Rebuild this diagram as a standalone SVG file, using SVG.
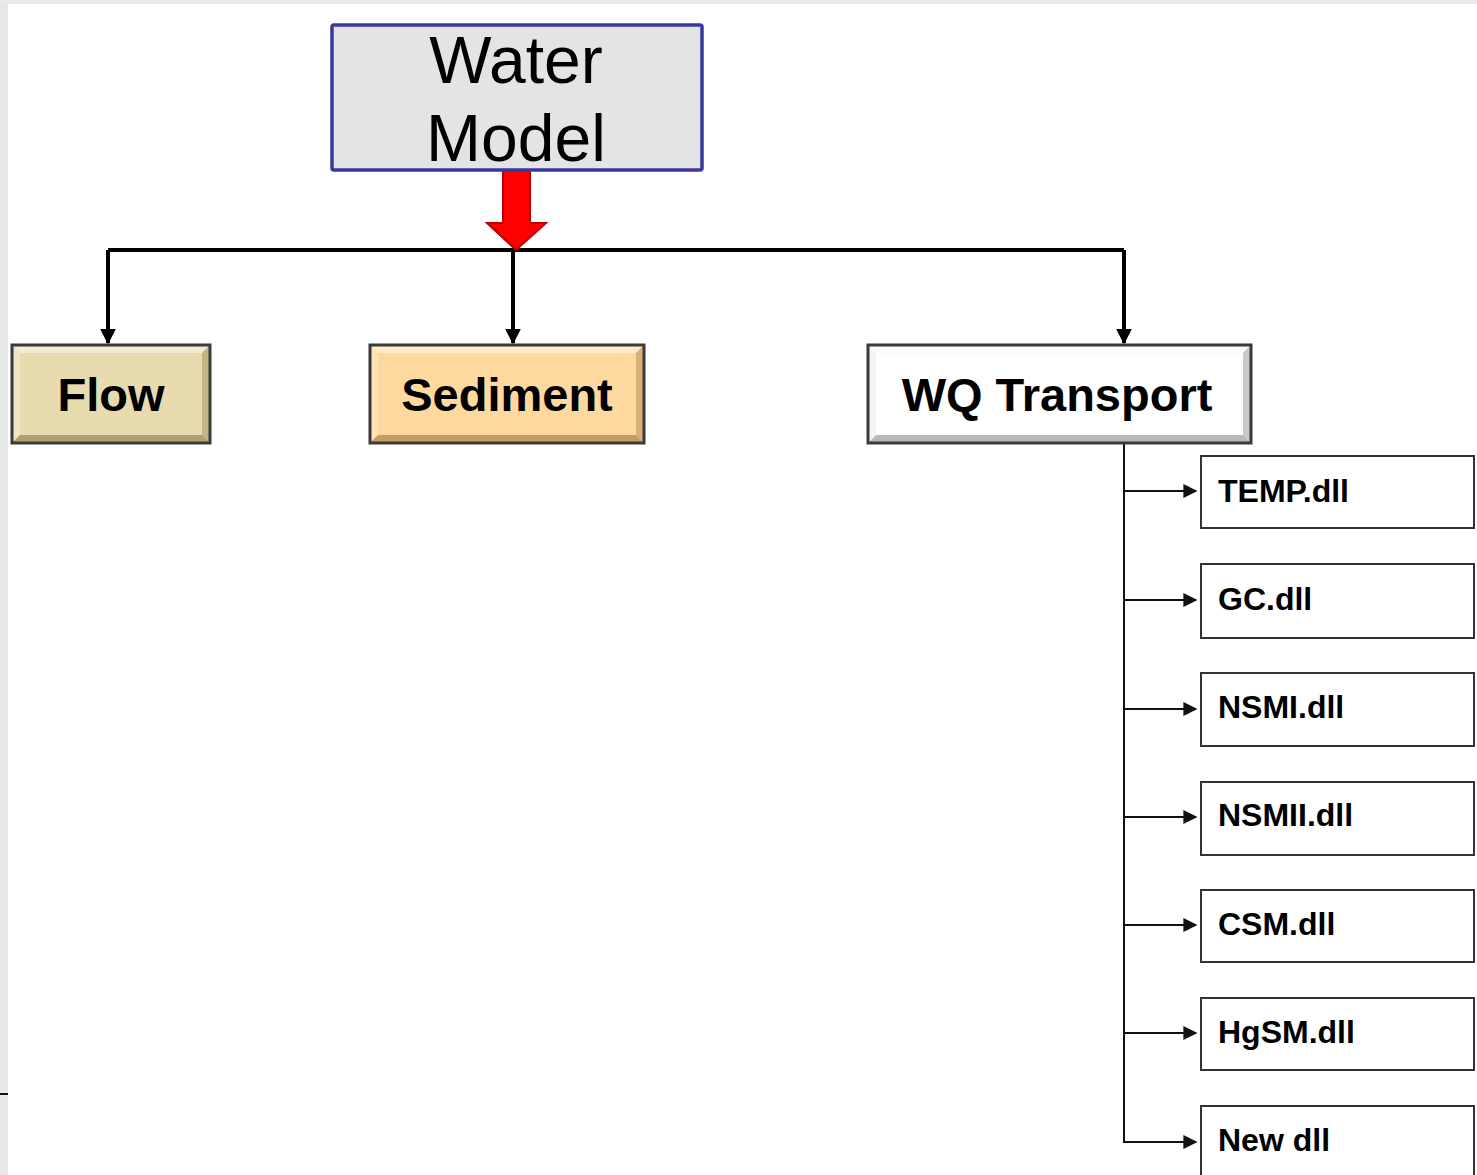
<svg xmlns="http://www.w3.org/2000/svg" width="1477" height="1175" viewBox="0 0 1477 1175">
  <defs>
    <style>
      .title { font-family: "Liberation Sans", Arial, sans-serif; font-size: 66px; fill: #000; text-anchor: middle; }
      .main { font-family: "Liberation Sans", Arial, sans-serif; font-weight: bold; font-size: 47px; fill: #000; text-anchor: middle; }
      .dll { font-family: "Liberation Sans", Arial, sans-serif; font-weight: bold; font-size: 32px; fill: #000; }
      .box { fill: #fff; stroke: #333; stroke-width: 2; }
      .edge { fill: none; stroke: #000; stroke-width: 4; }
      .thin { fill: none; stroke: #111; stroke-width: 2; }
      .frame { fill: none; stroke: #3a3a3a; stroke-width: 3; }
    </style>
    <marker id="tri" viewBox="0 0 10 10" refX="9" refY="5" markerWidth="4" markerHeight="4" orient="auto" markerUnits="strokeWidth">
      <path d="M0,0 L10,5 L0,10 Z" fill="#000"/>
    </marker>
    <marker id="triSmall" viewBox="0 0 10 10" refX="9" refY="5" markerWidth="7" markerHeight="7" orient="auto" markerUnits="strokeWidth">
      <path d="M0,0 L10,5 L0,10 Z" fill="#111"/>
    </marker>
  </defs>

  <!-- page background with light edge strips -->
  <rect x="0" y="0" width="1477" height="1175" fill="#fff"/>
  <rect x="0" y="0" width="8" height="1175" fill="#e6e9e8"/>
  <rect x="0" y="0" width="1477" height="4" fill="#e8ebea"/>
  <line x1="0" y1="1094" x2="8" y2="1094" stroke="#111" stroke-width="2"/>

  <!-- connectors -->
  <g id="connectors">
    <path class="edge" d="M108,250 H1124"/>
    <path class="edge" d="M108,250 V343" marker-end="url(#tri)"/>
    <path class="edge" d="M513,250 V343" marker-end="url(#tri)"/>
    <path class="edge" d="M1124,250 V343" marker-end="url(#tri)"/>
    <!-- red main arrow -->
    <path d="M503,169 H530 V223 H546 L516,250 L487,223 H503 Z" fill="#ff0000" stroke="#c00000" stroke-width="2"/>
    <!-- WQ Transport bus -->
    <path class="thin" d="M1124,443 V1142 H1196" marker-end="url(#triSmall)"/>
    <path class="thin" d="M1124,491 H1196" marker-end="url(#triSmall)"/>
    <path class="thin" d="M1124,600 H1196" marker-end="url(#triSmall)"/>
    <path class="thin" d="M1124,709 H1196" marker-end="url(#triSmall)"/>
    <path class="thin" d="M1124,817 H1196" marker-end="url(#triSmall)"/>
    <path class="thin" d="M1124,925 H1196" marker-end="url(#triSmall)"/>
    <path class="thin" d="M1124,1033 H1196" marker-end="url(#triSmall)"/>
  </g>

  <g id="water-model">
    <rect x="332" y="25" width="370" height="145" fill="#e4e4e4" stroke="#3838a0" stroke-width="3.5" rx="2"/>
    <text class="title" x="516" y="83">Water</text>
    <text class="title" x="516" y="161">Model</text>
  </g>

  <g id="flow">
    <rect x="12" y="345" width="198" height="98" fill="#e8dbb0"/>
    <polygon points="12,345 210,345 202,353 20,353" fill="#f4ecd2"/>
    <polygon points="12,345 20,353 20,435 12,443" fill="#efe5c3"/>
    <polygon points="210,345 210,443 202,435 202,353" fill="#c4b486"/>
    <polygon points="12,443 20,435 202,435 210,443" fill="#b0a070"/>
    <rect class="frame" x="12" y="345" width="198" height="98"/>
    <text class="main" x="111" y="411">Flow</text>
  </g>

  <g id="sediment">
    <rect x="370" y="345" width="274" height="98" fill="#fdd9a0"/>
    <polygon points="370,345 644,345 636,353 378,353" fill="#fee9c8"/>
    <polygon points="370,345 378,353 378,435 370,443" fill="#fee3b6"/>
    <polygon points="644,345 644,443 636,435 636,353" fill="#d8b078"/>
    <polygon points="370,443 378,435 636,435 644,443" fill="#c49c64"/>
    <rect class="frame" x="370" y="345" width="274" height="98"/>
    <text class="main" x="507" y="411">Sediment</text>
  </g>

  <g id="wq-transport">
    <rect x="868" y="345" width="383" height="98" fill="#fff"/>
    <polygon points="868,345 1251,345 1243,353 876,353" fill="#fafafa"/>
    <polygon points="868,345 876,353 876,435 868,443" fill="#f4f4f4"/>
    <polygon points="1251,345 1251,443 1243,435 1243,353" fill="#c8c8c8"/>
    <polygon points="868,443 876,435 1243,435 1251,443" fill="#b8b8b8"/>
    <rect class="frame" x="868" y="345" width="383" height="98"/>
    <text class="main" x="1057" y="411">WQ Transport</text>
  </g>

  <g id="temp-dll">
    <rect class="box" x="1201" y="456" width="273" height="72"/>
    <text class="dll" x="1218" y="502">TEMP.dll</text>
  </g>
  <g id="gc-dll">
    <rect class="box" x="1201" y="564" width="273" height="74"/>
    <text class="dll" x="1218" y="610">GC.dll</text>
  </g>
  <g id="nsmi-dll">
    <rect class="box" x="1201" y="673" width="273" height="73"/>
    <text class="dll" x="1218" y="718">NSMI.dll</text>
  </g>
  <g id="nsmii-dll">
    <rect class="box" x="1201" y="782" width="273" height="73"/>
    <text class="dll" x="1218" y="826">NSMII.dll</text>
  </g>
  <g id="csm-dll">
    <rect class="box" x="1201" y="890" width="273" height="72"/>
    <text class="dll" x="1218" y="935">CSM.dll</text>
  </g>
  <g id="hgsm-dll">
    <rect class="box" x="1201" y="998" width="273" height="72"/>
    <text class="dll" x="1218" y="1043">HgSM.dll</text>
  </g>
  <g id="new-dll">
    <rect class="box" x="1201" y="1106" width="273" height="80"/>
    <text class="dll" x="1218" y="1151">New dll</text>
  </g>
</svg>
